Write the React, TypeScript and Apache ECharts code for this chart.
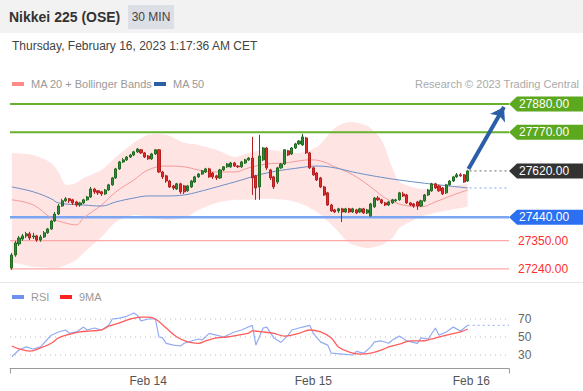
import { useEffect, useRef } from 'react';
import * as echarts from 'echarts';

const TITLE = 'Nikkei 225 (OSE)';
const TIMEFRAME = '30 MIN';
const TIMESTAMP = 'Thursday, February 16, 2023 1:17:36 AM CET';
const COPYRIGHT = 'Research © 2023 Trading Central';
const LEGEND_MAIN = ['MA 20 + Bollinger Bands', 'MA 50'];
const LEGEND_RSI = ['RSI', '9MA'];

const SLOT_COUNT = 139;

// [open, close, low, high]
const candles: number[][] = [
  [27244, 27294, 27236, 27302], [27294, 27341, 27287, 27349], [27337, 27360, 27329, 27368], [27356, 27368, 27349, 27376],
  [27368, 27376, 27360, 27384], [27376, 27360, 27352, 27384], [27364, 27368, 27356, 27380], [27368, 27352, 27345, 27372],
  [27352, 27364, 27345, 27372], [27364, 27380, 27360, 27387], [27380, 27395, 27376, 27399], [27395, 27426, 27391, 27430],
  [27426, 27453, 27422, 27461], [27453, 27484, 27449, 27492], [27484, 27504, 27481, 27512], [27504, 27512, 27500, 27519],
  [27512, 27504, 27496, 27515], [27508, 27496, 27488, 27512], [27500, 27488, 27481, 27504], [27488, 27496, 27481, 27500],
  [27496, 27508, 27492, 27512], [27508, 27519, 27504, 27523], [27519, 27550, 27515, 27558], [27550, 27539, 27531, 27554],
  [27543, 27535, 27527, 27546], [27539, 27531, 27523, 27543], [27531, 27546, 27527, 27550], [27546, 27566, 27543, 27570],
  [27566, 27593, 27562, 27597], [27593, 27628, 27589, 27632], [27628, 27655, 27624, 27659], [27655, 27663, 27651, 27670],
  [27663, 27674, 27659, 27678], [27674, 27682, 27670, 27686], [27682, 27694, 27678, 27698], [27694, 27705, 27690, 27709],
  [27702, 27690, 27686, 27705], [27690, 27674, 27670, 27694], [27678, 27667, 27663, 27682], [27667, 27686, 27663, 27690],
  [27686, 27702, 27682, 27705], [27702, 27616, 27612, 27705], [27616, 27597, 27589, 27620], [27601, 27581, 27574, 27605],
  [27581, 27558, 27554, 27585], [27562, 27554, 27546, 27566], [27550, 27570, 27546, 27574], [27570, 27539, 27531, 27574],
  [27562, 27539, 27531, 27566], [27543, 27562, 27539, 27566], [27558, 27581, 27554, 27585], [27577, 27597, 27574, 27601],
  [27597, 27608, 27593, 27612], [27608, 27620, 27605, 27624], [27616, 27628, 27612, 27632], [27628, 27597, 27593, 27632],
  [27612, 27597, 27589, 27616], [27601, 27593, 27585, 27605], [27593, 27624, 27589, 27628], [27624, 27636, 27620, 27639],
  [27636, 27647, 27632, 27651], [27636, 27651, 27632, 27655], [27651, 27639, 27636, 27655], [27639, 27636, 27632, 27643],
  [27636, 27655, 27632, 27659], [27651, 27663, 27647, 27667], [27663, 27670, 27659, 27674], [27670, 27593, 27527, 27752],
  [27601, 27554, 27508, 27605], [27558, 27678, 27508, 27760], [27663, 27709, 27659, 27713], [27709, 27632, 27624, 27713],
  [27624, 27593, 27585, 27628], [27597, 27558, 27550, 27601], [27577, 27632, 27570, 27636], [27632, 27647, 27628, 27651],
  [27647, 27702, 27643, 27705], [27698, 27682, 27678, 27702], [27686, 27709, 27682, 27713], [27709, 27725, 27705, 27729],
  [27725, 27736, 27721, 27740], [27721, 27752, 27717, 27764], [27748, 27690, 27686, 27752], [27690, 27632, 27628, 27694],
  [27632, 27605, 27601, 27636], [27612, 27585, 27581, 27616], [27593, 27558, 27554, 27597], [27558, 27527, 27523, 27562],
  [27535, 27488, 27484, 27539], [27488, 27465, 27461, 27492], [27469, 27461, 27457, 27473], [27465, 27473, 27457, 27477],
  [27473, 27461, 27422, 27477], [27461, 27473, 27457, 27477], [27473, 27461, 27457, 27477], [27461, 27473, 27457, 27477],
  [27469, 27457, 27453, 27473], [27461, 27473, 27457, 27477], [27473, 27457, 27453, 27477], [27457, 27469, 27453, 27473],
  [27446, 27492, 27442, 27496], [27481, 27515, 27477, 27519], [27515, 27508, 27504, 27523], [27508, 27496, 27492, 27512],
  [27496, 27488, 27484, 27500], [27488, 27500, 27484, 27504], [27496, 27508, 27492, 27512], [27504, 27508, 27500, 27512],
  [27508, 27535, 27504, 27539], [27531, 27523, 27519, 27539], [27527, 27496, 27492, 27531], [27496, 27488, 27484, 27500],
  [27492, 27484, 27477, 27496], [27500, 27484, 27469, 27504], [27484, 27504, 27481, 27508], [27504, 27527, 27500, 27531],
  [27527, 27546, 27523, 27550], [27543, 27570, 27539, 27574], [27570, 27554, 27550, 27574], [27562, 27543, 27539, 27566],
  [27554, 27531, 27527, 27558], [27535, 27566, 27531, 27570], [27566, 27581, 27562, 27585], [27581, 27597, 27577, 27601],
  [27597, 27605, 27593, 27612], [27605, 27601, 27597, 27612], [27605, 27577, 27574, 27608], [27581, 27620, 27577, 27624],
];

const dateTickIdx = [38, 84, 128];
const dateTickLabels = ['Feb 14', 'Feb 15', 'Feb 16'];

const bandIdx = [0, 6, 11, 13, 15, 18, 20, 25, 29, 34, 38, 43, 48, 52, 57, 62, 66, 71, 76, 80, 85, 90, 94, 99, 103, 106, 108, 114, 119, 127];
const upperBand = [27690, 27682, 27651, 27616, 27566, 27574, 27593, 27624, 27674, 27729, 27760, 27760, 27729, 27721, 27702, 27674, 27690, 27702, 27694, 27690, 27713, 27787, 27810, 27795, 27740, 27632, 27577, 27550, 27554, 27570];
const lowerBand = [27267, 27248, 27244, 27244, 27255, 27275, 27302, 27364, 27422, 27449, 27442, 27430, 27438, 27469, 27496, 27508, 27508, 27512, 27508, 27496, 27461, 27399, 27341, 27321, 27333, 27360, 27399, 27442, 27461, 27481];

const ma20Idx = [0, 6, 11, 15, 18, 20, 25, 29, 34, 38, 43, 48, 52, 57, 62, 66, 71, 76, 80, 83, 86, 90, 95, 100, 104, 109, 114, 118, 123, 127];
const ma20 = [27508, 27488, 27438, 27418, 27411, 27438, 27488, 27539, 27585, 27624, 27639, 27636, 27624, 27616, 27616, 27632, 27647, 27651, 27659, 27663, 27659, 27636, 27605, 27558, 27515, 27488, 27481, 27500, 27527, 27546];

const ma50Idx = [0, 6, 11, 13, 20, 25, 29, 34, 38, 43, 48, 52, 62, 71, 80, 85, 90, 95, 104, 114, 127];
const ma50 = [27558, 27539, 27512, 27496, 27488, 27484, 27500, 27515, 27523, 27523, 27527, 27539, 27577, 27612, 27632, 27639, 27632, 27616, 27593, 27574, 27554];

const rsiIdx = [0, 2, 4, 6, 8, 10, 11, 13, 15, 16, 18, 20, 21, 23, 25, 27, 28, 30, 32, 34, 35, 36, 38, 40, 41, 42, 43, 45, 47, 48, 50, 52, 53, 55, 57, 59, 62, 64, 67, 68, 70, 71, 73, 75, 77, 78, 80, 81, 83, 84, 86, 88, 89, 92, 95, 96, 98, 100, 101, 103, 105, 106, 108, 110, 113, 114, 116, 118, 119, 121, 123, 125, 127];
const rsiVal = [28, 35.6, 39, 36.7, 39, 47.8, 52, 55.6, 57.8, 54, 55.6, 61, 57.8, 60, 57.8, 63, 70, 71, 73, 76.7, 74, 68, 70, 70, 50, 49, 43, 41, 40, 43, 45.6, 47.8, 46.7, 54, 52, 50, 55.6, 57.8, 63, 41, 60, 61, 49, 44, 52, 57.8, 60, 61, 63, 54, 44.6, 41, 32, 31, 30, 34, 32, 39, 44.6, 45.6, 43, 46.7, 51, 45.6, 43, 49, 47.8, 60, 52, 55.6, 61, 56.7, 63];

const rsiMaIdx = [0, 2, 5, 8, 11, 13, 16, 19, 22, 25, 27, 30, 33, 36, 38, 40, 43, 46, 49, 52, 54, 57, 60, 63, 66, 67, 70, 73, 76, 78, 80, 83, 86, 89, 91, 94, 97, 100, 103, 105, 108, 111, 114, 117, 119, 122, 125, 127];
const rsiMaVal = [40, 36.7, 34.4, 37.8, 43, 49, 53, 55.6, 56.7, 57.8, 62, 65.6, 70, 72, 72, 70, 60, 50, 44.6, 43, 45.6, 49, 50, 52, 54.4, 56.7, 55.6, 54, 51, 52, 54, 57.8, 55.6, 49, 39, 33.3, 31, 32, 35.6, 39, 42, 45.6, 45.6, 47.8, 50, 53, 55.6, 58.9];

const rsiGridLevels = [30, 50, 70];

const levelPrices = [27880, 27770, 27620, 27440, 27350, 27240];
const levelRoles = ['target', 'target', 'last', 'pivot', 'support', 'support'];
const targetPrice = 27880;

const FONT = '"Liberation Sans", Arial, sans-serif';
const ROLE_STYLE: Record<string, { line: string; width: number; tag: string | null; text: string }> = {
  target: { line: '#67b12f', width: 2, tag: '#5ca81e', text: '#ffffff' },
  last: { line: '#555555', width: 1, tag: '#333333', text: '#ffffff' },
  pivot: { line: '#7aa5f3', width: 2.5, tag: '#2c6ff0', text: '#ffffff' },
  support: { line: '#ffa8a8', width: 1.3, tag: null, text: '#ff2e2e' },
};

export default function App() {
  const ref = useRef<HTMLDivElement>(null);
  useEffect(() => {
    const chart = echarts.init(ref.current!, null, { renderer: 'svg' });
    const pairs = (idx: number[], vals: number[]) => idx.map((x, i) => [x, vals[i]]);
    const lastX = candles.length - 1;
    const edgeX = SLOT_COUNT - 0.5;
    const lastClose = candles[lastX][1];
    const lastMa50 = ma50[ma50.length - 1];
    const lastRsi = rsiVal[rsiVal.length - 1];

    const levelSeries: any[] = [];
    levelPrices.forEach((p, i) => {
      const st = ROLE_STYLE[levelRoles[i]];
      if (levelRoles[i] === 'last') return;
      levelSeries.push({
        type: 'line', xAxisIndex: 1, yAxisIndex: 0, silent: true, symbol: 'none', z: 4,
        data: [[-0.5, p], [edgeX, p]],
        lineStyle: { color: st.line, width: st.width },
      });
    });

    const option: any = {
      animation: false,
      textStyle: { fontFamily: FONT },
      grid: [
        { left: 10, width: 499, top: 90, height: 190 },
        { left: 10, width: 499, top: 305.5, height: 63 },
      ],
      xAxis: [
        { type: 'category', gridIndex: 0, data: Array.from({ length: SLOT_COUNT }, (_, i) => String(i)), boundaryGap: true, show: false },
        { type: 'value', gridIndex: 0, min: -0.5, max: edgeX, show: false },
        {
          type: 'value', gridIndex: 1, min: -0.5, max: edgeX,
          axisLine: { show: true, lineStyle: { color: '#9a9a9a', width: 1 } },
          axisTick: { show: true, customValues: [-0.5, edgeX], length: 5, lineStyle: { color: '#9a9a9a' } },
          axisLabel: {
            customValues: dateTickIdx, color: '#555', fontSize: 12, margin: 6, fontFamily: FONT,
            formatter: (v: number) => dateTickLabels[dateTickIdx.indexOf(Math.round(v))] ?? '',
          },
          splitLine: { show: false },
        },
      ],
      yAxis: [
        { type: 'value', gridIndex: 0, min: 27197, max: 27934, show: false, splitLine: { show: false } },
        {
          type: 'value', gridIndex: 1, min: 15, max: 85, position: 'right',
          axisLine: { show: false }, axisTick: { show: false }, splitLine: { show: false },
          axisLabel: { customValues: rsiGridLevels, color: '#666', fontSize: 12, margin: 9, fontFamily: FONT },
        },
      ],
      series: [
        {
          type: 'custom', xAxisIndex: 1, yAxisIndex: 0, silent: true, z: 1,
          data: [[bandIdx[0], upperBand[0]]],
          renderItem: (_params: any, api: any) => {
            const top = bandIdx.map((x, i) => api.coord([x, upperBand[i]]));
            const bottom = bandIdx.map((x, i) => api.coord([x, lowerBand[i]])).reverse();
            const n = top.length;
            const pts = [top[0], ...top, top[n - 1], bottom[0], ...bottom, bottom[n - 1]];
            return {
              type: 'polygon',
              shape: { points: pts, smooth: 0.25 },
              style: { fill: 'rgba(255,120,120,0.2)', stroke: 'none' },
            };
          },
        },
        ...levelSeries,
        {
          type: 'line', xAxisIndex: 1, yAxisIndex: 0, silent: true, symbol: 'none', smooth: 0.4, z: 5,
          data: pairs(ma20Idx, ma20), lineStyle: { color: '#f39a9a', width: 1 },
        },
        {
          type: 'line', xAxisIndex: 1, yAxisIndex: 0, silent: true, symbol: 'none', smooth: 0.4, z: 5,
          data: pairs(ma50Idx, ma50), lineStyle: { color: '#6a8ec6', width: 1 },
        },
        {
          type: 'line', xAxisIndex: 1, yAxisIndex: 0, silent: true, symbol: 'none', z: 5,
          data: [[lastX + 0.5, lastMa50], [edgeX, lastMa50]],
          lineStyle: { color: '#7aa5f3', width: 1, type: [2, 3] },
        },
        {
          type: 'candlestick', xAxisIndex: 0, yAxisIndex: 0, silent: true, z: 6, barWidth: 2.6,
          data: candles,
          itemStyle: { color: '#2e8b3a', color0: '#e02b2b', borderColor: '#236b23', borderColor0: '#b51f1f', borderWidth: 1 },
        },
        {
          type: 'line', xAxisIndex: 1, yAxisIndex: 0, silent: true, symbol: 'none', z: 7,
          data: [[lastX + 0.5, lastClose], [edgeX, lastClose]],
          lineStyle: { color: '#666', width: 1, type: [2, 3] },
          markLine: {
            silent: true, symbol: ['none', 'arrow'], symbolSize: 13,
            label: { show: false },
            lineStyle: { color: '#2b5ea8', width: 4, type: 'solid' },
            data: [[{ coord: [lastX + 0.2, lastClose + 8] }, { coord: [edgeX - 1.4, targetPrice - 12] }]],
          },
        },
        {
          type: 'custom', xAxisIndex: 1, yAxisIndex: 0, silent: true, z: 10, clip: false,
          data: levelPrices.map((p, i) => [edgeX, p, i]),
          renderItem: (_params: any, api: any) => {
            const idx = api.value(2);
            const role = levelRoles[idx];
            const st = ROLE_STYLE[role];
            const pt = api.coord([api.value(0), api.value(1)]);
            const x = pt[0];
            const y = pt[1];
            const text = levelPrices[idx].toFixed(2);
            if (!st.tag) {
              return { type: 'text', x: x + 9, y, style: { text, fill: st.text, font: `12px ${FONT}`, verticalAlign: 'middle' } };
            }
            return {
              type: 'group',
              children: [
                { type: 'polygon', shape: { points: [[x, y], [x + 8, y - 7.5], [x + 76, y - 7.5], [x + 76, y + 7.5], [x + 8, y + 7.5]] }, style: { fill: st.tag } },
                { type: 'text', x: x + 10, y, style: { text, fill: st.text, font: `12px ${FONT}`, verticalAlign: 'middle' } },
              ],
            };
          },
        },
        ...rsiGridLevels.map((lv) => ({
          type: 'line', xAxisIndex: 2, yAxisIndex: 1, silent: true, symbol: 'none', z: 1,
          data: [[-0.5, lv], [edgeX - 0.5, lv]],
          lineStyle: { color: '#bdbdbd', width: 1, type: [1, 4] },
        })),
        {
          type: 'line', xAxisIndex: 2, yAxisIndex: 1, silent: true, symbol: 'none', z: 4,
          data: pairs(rsiIdx, rsiVal), lineStyle: { color: '#92acf3', width: 1.2 },
        },
        {
          type: 'line', xAxisIndex: 2, yAxisIndex: 1, silent: true, symbol: 'none', z: 4,
          data: [[lastX, lastRsi], [edgeX, lastRsi]], lineStyle: { color: '#92acf3', width: 1, type: [2, 3] },
        },
        {
          type: 'line', xAxisIndex: 2, yAxisIndex: 1, silent: true, symbol: 'none', smooth: 0.4, z: 5,
          data: pairs(rsiMaIdx, rsiMaVal), lineStyle: { color: '#ff5c5c', width: 1.3 },
        },
      ],
      graphic: [
        { type: 'rect', shape: { x: 0, y: 0, width: 583, height: 33 }, style: { fill: '#f2f2f2' }, silent: true },
        { type: 'text', x: 9, y: 17, style: { text: TITLE, font: `bold 14px ${FONT}`, fill: '#333', verticalAlign: 'middle' } },
        { type: 'rect', shape: { x: 128, y: 5, width: 46, height: 24 }, style: { fill: '#dcdfe5' } },
        { type: 'text', x: 151, y: 17, style: { text: TIMEFRAME, font: `12px ${FONT}`, fill: '#444', align: 'center', verticalAlign: 'middle' } },
        { type: 'text', x: 12, y: 46, style: { text: TIMESTAMP, font: `12px ${FONT}`, fill: '#444', verticalAlign: 'middle' } },
        { type: 'rect', shape: { x: 12, y: 82, width: 12, height: 4 }, style: { fill: '#ff8a8a' } },
        { type: 'text', x: 31, y: 84, style: { text: LEGEND_MAIN[0], font: `11px ${FONT}`, fill: '#999', verticalAlign: 'middle' } },
        { type: 'rect', shape: { x: 154, y: 82, width: 12, height: 4 }, style: { fill: '#2d5fa5' } },
        { type: 'text', x: 173, y: 84, style: { text: LEGEND_MAIN[1], font: `11px ${FONT}`, fill: '#999', verticalAlign: 'middle' } },
        { type: 'text', x: 579, y: 84, style: { text: COPYRIGHT, font: `11px ${FONT}`, fill: '#aaa', align: 'right', verticalAlign: 'middle' } },
        { type: 'line', shape: { x1: 0, y1: 282.5, x2: 583, y2: 282.5 }, style: { stroke: '#e8e8e8', lineWidth: 1 } },
        { type: 'rect', shape: { x: 12, y: 295, width: 12, height: 4 }, style: { fill: '#6f90f0' } },
        { type: 'text', x: 31, y: 297, style: { text: LEGEND_RSI[0], font: `11px ${FONT}`, fill: '#999', verticalAlign: 'middle' } },
        { type: 'rect', shape: { x: 60, y: 295, width: 12, height: 4 }, style: { fill: '#ff2020' } },
        { type: 'text', x: 79, y: 297, style: { text: LEGEND_RSI[1], font: `11px ${FONT}`, fill: '#999', verticalAlign: 'middle' } },
      ],
    };
    chart.setOption(option);
    return () => chart.dispose();
  }, []);
  return <div ref={ref} style={{ position: 'fixed', left: 0, top: 0, width: 583, height: 391, background: '#fff' }} />;
}
